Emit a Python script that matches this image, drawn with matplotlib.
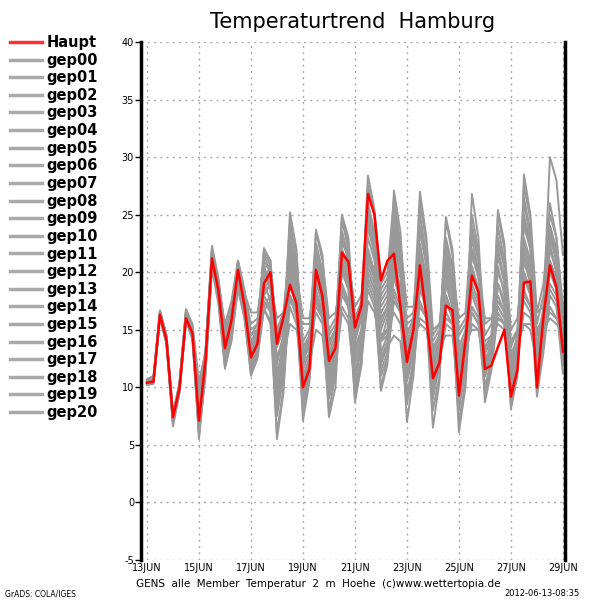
import numpy as np
import matplotlib
matplotlib.use('Agg')
import matplotlib.pyplot as plt

# 6-hourly steps from 13JUN 00Z to 29JUN 00Z
steps = np.arange(65) * 0.25
day_ticks = [0, 2, 4, 6, 8, 10, 12, 14, 16]
day_labels = ['13JUN', '15JUN', '17JUN', '19JUN', '21JUN', '23JUN', '25JUN', '27JUN', '29JUN']
y_ticks = [-5, 0, 5, 10, 15, 20, 25, 30, 35, 40]

haupt = [10.4, 10.5, 16.3, 14.1, 7.4, 9.9, 16.0, 14.7, 7.1, 12.3, 21.2, 18.4, 13.4, 15.8, 20.2, 17.1,
         12.6, 13.8, 19.0, 20.0, 13.8, 16.1, 18.9, 17.3, 10.0, 11.6, 20.2, 17.9, 12.3, 13.4, 21.7, 20.9,
         15.2, 17.1, 26.8, 25.0, 19.3, 21.0, 21.6, 17.0, 12.2, 15.0, 20.6, 16.1, 10.8, 12.1, 17.1, 16.7,
         9.3, 14.0, 19.7, 18.3, 11.6, 11.9, 13.5, 15.0, 9.2, 11.5, 19.1, 19.2, 10.0, 16.1, 20.6, 18.7, 13.1]

gep00 = [10.6, 10.8, 16.5, 14.3, 7.6, 10.1, 16.3, 14.9, 7.5, 12.6, 21.5, 18.7, 13.8, 16.0, 20.5, 17.4,
         13.0, 14.2, 19.6, 20.4, 14.5, 16.5, 19.5, 17.8, 11.0, 12.5, 21.0, 18.4, 13.0, 14.0, 22.5, 21.5,
         16.0, 17.5, 27.5, 25.0, 18.5, 19.5, 22.0, 18.0, 13.0, 15.0, 21.0, 17.0, 11.5, 13.0, 18.0, 16.0,
         10.5, 13.5, 20.5, 18.5, 12.5, 13.0, 16.0, 15.5, 10.5, 12.5, 19.5, 18.0, 11.0, 15.0, 21.0, 19.0, 14.0]
gep01 = [10.3, 10.6, 16.1, 13.9, 7.0, 9.6, 15.9, 14.5, 6.5, 11.8, 20.8, 18.0, 12.5, 15.0, 19.5, 16.5,
         11.5, 13.0, 17.5, 16.5, 9.0, 12.0, 22.0, 19.5, 10.5, 12.5, 22.5, 20.0, 14.5, 15.5, 23.5, 21.0,
         13.5, 15.0, 24.0, 21.5, 14.0, 16.0, 25.0, 21.0, 14.0, 15.5, 19.0, 16.5, 10.0, 12.5, 21.5, 19.0,
         12.0, 14.0, 23.0, 20.0, 13.0, 14.5, 17.0, 16.0, 12.5, 13.5, 15.5, 15.0, 12.0, 14.0, 17.0, 16.0, 14.5]
gep02 = [10.5, 10.9, 16.6, 14.2, 7.2, 10.2, 16.6, 15.0, 5.5, 11.5, 21.8, 19.0, 14.5, 16.5, 20.8, 18.0,
         15.0, 15.5, 21.5, 20.0, 12.0, 14.5, 24.5, 21.0, 13.0, 14.0, 17.5, 16.5, 10.0, 12.0, 20.0, 18.5,
         11.0, 14.0, 22.0, 20.0, 12.0, 13.5, 18.5, 17.0, 10.5, 13.0, 24.0, 21.0, 14.5, 15.5, 20.0, 18.0,
         13.0, 14.5, 16.5, 15.5, 9.5, 12.0, 22.5, 20.5, 14.0, 15.0, 24.0, 22.0, 13.5, 17.0, 23.5, 21.0, 15.5]
gep03 = [10.2, 10.4, 16.2, 14.0, 7.3, 9.8, 15.8, 14.4, 8.5, 12.8, 20.5, 17.8, 12.0, 14.5, 19.0, 16.0,
         12.0, 13.5, 16.8, 15.5, 6.0, 10.0, 18.0, 16.0, 8.0, 11.0, 19.5, 17.0, 11.5, 13.5, 24.5, 22.0,
         15.5, 16.5, 21.0, 19.5, 16.5, 17.5, 20.5, 17.5, 9.5, 12.0, 18.5, 17.0, 12.5, 14.0, 24.5, 21.5,
         15.0, 16.0, 18.0, 16.5, 11.0, 13.0, 20.5, 18.0, 9.0, 11.5, 28.5, 25.0, 16.5, 19.0, 25.0, 23.0, 17.0]
gep04 = [10.7, 11.0, 16.7, 14.5, 7.8, 10.4, 16.8, 15.5, 10.5, 13.0, 22.3, 19.5, 15.0, 17.0, 21.0, 18.5,
         14.5, 15.5, 22.0, 20.5, 13.5, 15.0, 20.5, 18.5, 12.5, 14.5, 23.5, 21.0, 16.0, 16.5, 19.0, 17.0,
         9.0, 12.0, 20.0, 18.5, 14.5, 15.0, 16.5, 15.5, 12.0, 13.5, 22.0, 19.5, 11.0, 13.0, 16.5, 15.5,
         7.0, 10.5, 19.0, 17.5, 12.0, 14.0, 25.0, 22.0, 15.0, 16.0, 22.0, 20.0, 10.5, 14.0, 19.0, 18.0, 12.0]
gep05 = [10.4, 10.7, 16.4, 14.0, 6.8, 9.7, 16.1, 14.6, 6.8, 12.0, 21.0, 18.2, 13.0, 15.5, 20.0, 17.0,
         12.5, 13.5, 18.5, 19.5, 7.5, 11.0, 21.0, 18.5, 9.0, 11.5, 20.0, 18.0, 12.5, 14.0, 21.0, 19.5,
         14.0, 16.5, 28.4, 25.5, 19.0, 20.0, 26.5, 22.5, 17.0, 17.0, 20.0, 17.5, 13.5, 14.5, 19.0, 17.0,
         8.5, 12.5, 22.0, 20.0, 14.5, 15.5, 19.0, 17.5, 12.0, 13.5, 18.5, 17.0, 13.0, 15.5, 20.0, 18.5, 13.0]
gep06 = [10.3, 10.5, 16.0, 13.8, 6.6, 9.5, 15.8, 14.2, 5.8, 11.2, 20.6, 17.5, 11.8, 14.0, 18.8, 16.2,
         11.0, 12.5, 17.0, 18.0, 10.5, 13.0, 23.0, 20.5, 14.0, 15.0, 18.5, 16.5, 8.0, 11.0, 22.0, 20.0,
         15.0, 16.0, 19.0, 17.5, 10.0, 12.5, 23.5, 21.0, 15.5, 16.0, 27.0, 23.0, 15.0, 15.5, 17.5, 16.0,
         9.0, 12.0, 17.0, 16.0, 13.5, 14.5, 21.5, 19.5, 12.5, 14.5, 26.5, 23.5, 15.5, 18.0, 22.0, 20.0, 14.0]
gep07 = [10.6, 10.6, 16.6, 14.6, 7.5, 10.0, 16.4, 15.2, 9.0, 13.0, 22.0, 19.2, 14.0, 16.5, 20.5, 17.8,
         13.5, 14.5, 20.5, 19.0, 16.0, 16.5, 17.5, 16.5, 15.5, 15.5, 17.0, 16.0, 13.0, 14.5, 18.0, 17.0,
         12.5, 14.5, 23.0, 21.0, 17.0, 18.0, 21.0, 18.5, 13.5, 14.5, 17.0, 16.0, 6.5, 10.5, 22.0, 20.0,
         16.0, 16.5, 24.0, 21.5, 15.5, 16.0, 18.0, 16.5, 8.5, 12.0, 23.0, 21.0, 11.5, 15.5, 24.0, 21.5, 16.0]
gep08 = [10.5, 10.4, 16.2, 14.2, 7.1, 9.9, 16.2, 14.8, 7.0, 12.2, 21.3, 18.5, 12.8, 15.2, 20.0, 16.8,
         12.2, 13.8, 22.1, 21.0, 11.0, 14.0, 25.2, 22.0, 12.0, 14.0, 21.5, 19.5, 15.0, 16.0, 21.0, 19.0,
         10.5, 13.5, 26.0, 23.5, 15.5, 17.0, 24.0, 20.5, 11.0, 13.5, 21.5, 19.0, 9.0, 12.0, 19.5, 17.5,
         11.0, 13.0, 15.5, 15.0, 12.5, 13.5, 16.0, 15.5, 11.5, 13.0, 16.5, 16.0, 14.0, 15.0, 16.0, 15.5, 15.0]
gep09 = [10.2, 10.3, 16.0, 14.0, 7.4, 10.3, 16.5, 15.0, 8.0, 12.5, 21.0, 18.0, 13.5, 15.5, 19.5, 17.2,
         14.0, 15.0, 19.0, 17.5, 9.5, 12.5, 19.0, 17.0, 10.0, 12.0, 23.7, 21.5, 14.0, 15.0, 24.8, 22.5,
         14.5, 16.0, 25.0, 22.5, 13.0, 14.5, 27.1, 23.5, 14.5, 16.0, 25.0, 21.5, 12.0, 13.5, 21.0, 19.0,
         10.0, 13.0, 26.8, 23.0, 13.0, 14.5, 23.0, 20.5, 10.0, 13.0, 21.0, 19.0, 12.5, 16.5, 26.0, 23.0, 16.5]
gep10 = [10.4, 10.6, 16.3, 14.1, 7.3, 9.8, 15.9, 14.6, 7.3, 12.3, 21.1, 18.3, 12.2, 14.8, 20.9, 18.2,
         15.5, 16.0, 18.0, 16.8, 5.5, 9.5, 20.0, 17.5, 7.1, 10.5, 18.0, 16.0, 7.4, 10.0, 20.5, 18.5,
         8.7, 12.0, 21.5, 19.5, 9.7, 12.0, 20.0, 18.0, 11.5, 13.0, 19.5, 17.0, 10.5, 12.0, 15.5, 15.0,
         11.5, 13.5, 18.5, 17.0, 10.0, 12.5, 19.0, 17.0, 8.1, 11.0, 20.0, 18.0, 9.2, 13.0, 18.0, 17.0, 11.2]
gep11 = [10.5, 10.7, 16.5, 14.4, 7.0, 9.9, 16.0, 14.3, 6.2, 11.5, 20.8, 18.0, 13.2, 15.8, 20.3, 17.6,
         12.8, 14.5, 21.0, 20.0, 14.0, 15.5, 18.0, 16.8, 10.5, 12.0, 15.0, 14.5, 9.0, 11.5, 17.0, 16.0,
         11.5, 13.0, 18.5, 17.0, 12.5, 13.5, 14.5, 14.0, 8.5, 11.5, 17.5, 16.0, 14.0, 15.0, 23.0, 20.5,
         14.5, 15.5, 20.0, 18.0, 11.0, 13.5, 24.0, 21.0, 13.5, 15.0, 20.0, 18.5, 15.0, 16.0, 18.5, 17.5, 13.5]
gep12 = [10.6, 10.5, 16.4, 14.2, 7.7, 10.3, 16.7, 15.3, 9.5, 13.0, 22.0, 19.0, 15.5, 17.5, 21.0, 18.2,
         16.5, 16.5, 20.0, 18.5, 12.5, 14.0, 21.5, 19.0, 13.5, 14.5, 19.0, 17.5, 11.0, 13.5, 23.0, 21.0,
         17.0, 18.0, 24.5, 22.0, 15.0, 16.5, 19.5, 17.5, 16.0, 16.5, 23.5, 20.5, 12.0, 14.0, 24.8, 22.0,
         13.5, 15.0, 21.5, 19.5, 16.0, 16.0, 17.0, 16.0, 14.0, 14.5, 17.5, 16.5, 12.0, 14.5, 22.5, 20.0, 15.0]
gep13 = [10.3, 10.6, 16.1, 13.7, 6.9, 9.6, 15.9, 14.1, 6.0, 11.0, 20.3, 17.2, 11.6, 14.2, 18.5, 16.0,
         11.2, 12.8, 16.7, 17.5, 8.5, 11.5, 17.0, 15.5, 11.5, 13.0, 22.0, 19.5, 12.0, 14.0, 19.0, 17.5,
         13.0, 15.0, 20.5, 19.0, 11.5, 13.0, 22.5, 19.5, 9.0, 12.5, 26.0, 22.5, 13.0, 14.5, 18.0, 16.5,
         6.1, 10.0, 20.5, 18.5, 8.7, 11.5, 16.5, 15.5, 9.0, 12.0, 21.5, 19.5, 10.0, 13.5, 24.0, 22.0, 14.5]
gep14 = [10.4, 10.5, 16.3, 14.0, 7.4, 10.0, 16.2, 14.9, 7.8, 12.5, 21.5, 18.6, 13.4, 15.6, 20.1, 17.0,
         12.0, 13.5, 19.5, 20.0, 15.0, 16.5, 22.5, 20.0, 16.0, 16.0, 20.0, 18.5, 14.0, 15.0, 21.5, 20.0,
         16.0, 17.0, 22.0, 20.0, 14.0, 15.0, 20.0, 18.0, 13.0, 14.0, 16.0, 15.5, 9.5, 12.5, 20.5, 18.5,
         12.5, 14.0, 17.0, 16.0, 14.0, 14.5, 15.5, 15.0, 11.0, 13.0, 18.0, 17.0, 16.5, 17.0, 30.0, 28.0, 21.5]
gep15 = [10.5, 10.8, 16.6, 14.5, 7.5, 10.2, 16.4, 14.8, 6.5, 11.8, 21.0, 18.2, 12.5, 15.0, 19.8, 16.6,
         11.8, 13.2, 18.0, 19.0, 10.0, 13.0, 20.0, 18.0, 12.5, 13.5, 16.5, 15.5, 10.5, 12.5, 18.5, 17.0,
         12.0, 14.0, 19.5, 18.0, 11.0, 12.5, 17.5, 16.5, 7.0, 11.0, 19.0, 17.5, 11.5, 13.0, 16.0, 15.5,
         13.0, 14.0, 15.0, 15.0, 12.0, 13.0, 17.5, 16.5, 12.0, 13.5, 24.5, 22.0, 14.5, 16.5, 21.0, 19.5, 12.5]
gep16 = [10.2, 10.5, 16.2, 14.3, 7.2, 10.1, 16.3, 15.1, 8.2, 12.8, 22.0, 19.2, 14.8, 16.8, 20.7, 17.9,
         13.8, 14.8, 21.5, 21.0, 14.5, 15.5, 19.0, 17.0, 8.5, 11.5, 21.0, 19.0, 13.5, 15.0, 22.0, 20.5,
         15.5, 16.5, 26.0, 23.0, 16.0, 17.0, 23.0, 20.0, 12.5, 14.5, 20.5, 18.0, 8.0, 11.0, 22.5, 20.5,
         11.5, 14.0, 23.5, 21.0, 9.5, 12.5, 25.4, 22.5, 11.5, 14.0, 27.5, 24.5, 11.0, 15.0, 24.0, 22.0, 14.5]
gep17 = [10.4, 10.6, 16.3, 14.2, 7.0, 9.8, 16.1, 14.7, 7.2, 12.4, 21.3, 18.5, 13.0, 15.4, 20.4, 17.4,
         14.5, 15.0, 16.8, 15.8, 11.5, 12.5, 15.5, 15.0, 12.0, 13.0, 17.5, 16.0, 9.5, 12.0, 16.5, 15.5,
         10.0, 12.5, 17.5, 16.5, 14.0, 14.5, 18.0, 16.5, 14.0, 14.5, 15.5, 15.0, 12.0, 13.5, 14.5, 14.5,
         9.5, 12.0, 16.5, 15.5, 13.0, 14.0, 20.0, 18.5, 13.0, 14.0, 15.5, 15.5, 14.5, 15.5, 16.5, 16.0, 16.0]
gep18 = [10.6, 10.7, 16.5, 14.1, 7.6, 10.0, 16.6, 15.0, 10.0, 13.2, 21.8, 18.8, 14.2, 16.2, 20.6, 17.7,
         13.2, 14.0, 18.5, 18.8, 12.5, 14.5, 23.5, 21.5, 12.5, 13.5, 20.5, 18.8, 12.8, 14.5, 25.0, 23.0,
         14.0, 16.0, 27.5, 25.0, 17.5, 18.5, 25.5, 22.0, 13.5, 15.0, 22.5, 19.5, 11.0, 12.5, 19.0, 17.0,
         9.0, 12.5, 25.0, 22.0, 11.5, 13.0, 22.0, 19.5, 10.0, 12.5, 26.0, 23.0, 12.0, 16.5, 23.5, 21.0, 13.5]
gep19 = [10.3, 10.4, 16.1, 13.9, 7.1, 9.7, 16.0, 14.5, 7.0, 12.0, 20.9, 17.9, 12.4, 14.9, 19.2, 16.8,
         12.4, 14.2, 20.0, 19.5, 8.0, 11.5, 21.5, 19.0, 9.5, 11.5, 19.5, 17.5, 10.5, 13.0, 21.5, 20.0,
         9.5, 12.5, 24.0, 22.0, 12.5, 14.0, 26.0, 22.0, 12.0, 14.0, 24.0, 21.0, 10.0, 12.5, 17.5, 16.0,
         8.0, 11.5, 22.0, 19.5, 12.0, 13.0, 19.0, 17.5, 9.5, 12.0, 25.0, 22.5, 10.5, 14.5, 22.0, 20.5, 12.5]
gep20 = [10.5, 10.5, 16.4, 14.3, 7.3, 10.1, 16.2, 14.9, 6.0, 11.5, 21.2, 18.6, 13.6, 15.9, 20.2, 17.2,
         13.5, 14.5, 20.5, 20.5, 11.0, 13.5, 24.0, 21.0, 13.0, 14.5, 22.5, 20.0, 11.5, 14.0, 23.5, 21.5,
         15.0, 17.0, 25.5, 23.0, 18.0, 19.0, 24.0, 21.0, 15.0, 15.5, 21.0, 18.5, 13.0, 14.5, 21.5, 19.5,
         12.0, 14.5, 24.0, 21.0, 11.0, 13.0, 21.5, 19.0, 11.0, 13.0, 22.5, 20.5, 13.0, 16.0, 23.0, 21.0, 15.5]

members = [gep00, gep01, gep02, gep03, gep04, gep05, gep06, gep07, gep08, gep09, gep10,
           gep11, gep12, gep13, gep14, gep15, gep16, gep17, gep18, gep19, gep20]
member_names = ['gep%02d' % k for k in range(len(members))]

fig = plt.figure(figsize=(6, 6), dpi=100)
ax = fig.add_axes([141/600, 40/600, 424/600, 518/600])

lines = []
for name, vals in zip(member_names, members):
    l, = ax.plot(steps, vals, color='#999999', lw=1.4, label=name, zorder=2)
    lines.append(l)
hl, = ax.plot(steps, haupt, color='#ff0000', lw=1.8, label='Haupt', zorder=3)

ax.set_xlim(-0.23, 16.08)
ax.set_ylim(-5, 40)
ax.set_xticks(day_ticks)
ax.set_xticklabels(day_labels)
ax.set_yticks(y_ticks)
ax.set_yticklabels([str(v) for v in y_ticks])
ax.tick_params(axis='both', labelsize=7, length=4, width=1, direction='out', pad=1)
ax.tick_params(axis='x', length=0, pad=2)
ax.grid(True, color='#aaaaaa', linestyle=(0, (1.5, 3)), lw=1, zorder=1)

for s in ['top', 'bottom']:
    ax.spines[s].set_visible(False)
for s in ['left', 'right']:
    ax.spines[s].set_linewidth(2.5)
    ax.spines[s].set_color('black')

# legend on the left side
handles = [hl] + lines
labels = ['Haupt'] + member_names
leg = fig.legend(handles, labels, loc='upper left', bbox_to_anchor=(10/600, 1 - 35/600),
                 frameon=False, fontsize=10.5, handlelength=2.2, handletextpad=0.3,
                 labelspacing=0.18, borderaxespad=0, borderpad=0)
for t in leg.get_texts():
    t.set_fontweight('bold')
for h in leg.legend_handles[1:]:
    h.set_color('#aaaaaa')
    h.set_linewidth(2.5)
leg.legend_handles[0].set_linewidth(2.5)
leg.legend_handles[0].set_color('#ff3030')

fig.text(353/600, 1 - 22/600, 'Temperaturtrend  Hamburg', ha='center', va='center', fontsize=15)
fig.text(318/600, 1 - 584/600, 'GENS  alle  Member  Temperatur  2  m  Hoehe  (c)www.wettertopia.de',
         ha='center', va='center', fontsize=7.5)
fig.text(5/600, 1 - 594/600, 'GrADS: COLA/IGES', ha='left', va='center', fontsize=5.5)
fig.text(580/600, 1 - 594/600, '2012-06-13-08:35', ha='right', va='center', fontsize=6)

fig.savefig('out.png', dpi=100)
